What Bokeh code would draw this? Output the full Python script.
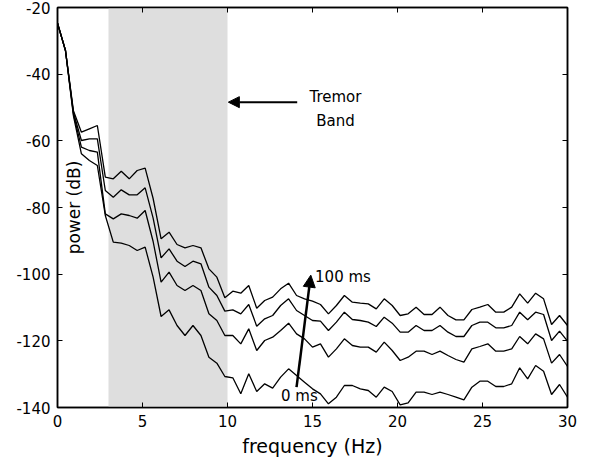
import numpy as np
from bokeh.plotting import figure
from bokeh.models import (ColumnDataSource, LinearAxis, Range1d, FixedTicker, BoxAnnotation,
                          Arrow, NormalHead, Label)
from bokeh.embed import file_html
from bokeh.resources import INLINE

# ---------------- data ----------------
n_points = 65
freq_max = 30.0
freqs = np.arange(n_points) * freq_max / (n_points - 1)

power_100ms = [-24.7, -32.9, -51.0, -57.4, -56.4, -55.4, -70.9, -71.4, -69.1, -71.4,
               -68.9, -68.2, -77.3, -89.4, -87.4, -91.1, -92.1, -91.4, -92.1, -98.4,
               -100.9, -107.1, -105.1, -105.7, -103.4, -110.2, -107.9, -106.9, -104.4, -102.7,
               -106.4, -107.4, -108.1, -109.1, -111.9, -109.4, -106.4, -108.4, -108.7, -108.9,
               -110.4, -107.4, -109.4, -112.4, -111.9, -109.9, -112.1, -112.1, -109.9, -112.4,
               -113.7, -113.7, -110.6, -109.9, -109.1, -111.4, -111.4, -109.9, -105.9, -108.7,
               -105.7, -107.4, -115.1, -112.4, -115.4]
power_67ms = [-24.7, -32.9, -51.5, -59.9, -59.4, -59.4, -74.9, -76.9, -74.7, -76.2,
              -76.2, -74.1, -83.2, -95.1, -92.4, -96.1, -97.7, -96.1, -96.9, -103.9,
              -106.4, -111.1, -110.7, -111.9, -109.1, -115.6, -113.4, -112.4, -109.4, -107.4,
              -110.9, -112.4, -113.9, -114.1, -116.9, -114.4, -111.4, -113.6, -113.9, -114.4,
              -115.7, -112.9, -114.7, -117.4, -117.4, -115.4, -116.9, -116.9, -115.4, -117.4,
              -118.7, -118.7, -115.4, -114.4, -114.4, -116.1, -116.1, -115.4, -111.4, -113.7,
              -111.4, -112.1, -119.9, -117.1, -120.1]
power_33ms = [-24.7, -32.9, -52.0, -61.9, -62.9, -63.4, -81.9, -83.4, -81.9, -82.4,
              -83.2, -80.9, -90.2, -102.4, -99.4, -103.4, -104.9, -103.4, -104.9, -111.9,
              -113.9, -118.4, -118.4, -120.9, -116.4, -122.9, -119.9, -118.9, -116.9, -114.7,
              -117.9, -119.4, -121.9, -120.9, -124.9, -122.4, -119.4, -121.4, -121.9, -121.9,
              -123.4, -120.4, -122.9, -125.9, -124.9, -123.1, -123.1, -124.1, -123.1, -124.4,
              -125.6, -126.4, -122.4, -121.7, -120.9, -123.1, -123.1, -122.4, -118.7, -120.9,
              -117.9, -119.4, -126.7, -124.1, -127.7]
power_0ms = [-24.7, -32.9, -52.5, -63.9, -65.9, -67.4, -82.4, -90.4, -90.7, -91.4,
             -92.9, -91.9, -100.9, -112.7, -110.7, -115.4, -118.4, -115.4, -118.4, -124.9,
             -126.7, -130.7, -131.1, -135.9, -129.9, -135.2, -132.9, -134.2, -130.9, -128.4,
             -130.4, -132.4, -134.4, -135.9, -138.9, -136.9, -133.4, -133.4, -134.4, -134.9,
             -136.9, -133.9, -135.2, -139.2, -138.6, -135.4, -135.4, -136.1, -135.4, -136.1,
             -136.9, -137.7, -133.9, -132.1, -132.1, -133.7, -133.7, -132.9, -128.1, -131.4,
             -127.4, -129.1, -136.1, -133.1, -136.9]

tremor_band = [3.0, 10.0]
x_ticks = [0, 5, 10, 15, 20, 25, 30]
y_ticks = [-140, -120, -100, -80, -60, -40, -20]
y_tick_labels = ["-140", "-120", "-100", "-80", "-60", "-40", "-20"]

tremor_arrow = dict(x_start=14.1, y_start=-48.4, x_end=10.05, y_end=-48.4)
delay_arrow = dict(x_start=14.06, y_start=-133.9, x_end=14.9, y_end=-100.3)

FONT = "DejaVu Sans"

# ---------------- figure ----------------
p = figure(width=596, height=465, output_backend="svg", toolbar_location=None,
           x_range=Range1d(0, 30), y_range=Range1d(-140, -20),
           min_border_left=57, min_border_right=29, min_border_top=7, min_border_bottom=58)
p.background_fill_color = "white"
p.border_fill_color = "white"
p.outline_line_color = "black"
p.outline_line_width = 1.5
p.grid.visible = False

p.add_layout(BoxAnnotation(left=tremor_band[0], right=tremor_band[1],
                           fill_color="#dedede", fill_alpha=1.0, line_color=None, level="underlay"))

for series in (power_100ms, power_67ms, power_33ms, power_0ms):
    src = ColumnDataSource(dict(f=freqs, p=series))
    p.line("f", "p", source=src, line_color="black", line_width=1.3)

def style_axis(ax, labels=True):
    ax.axis_line_color = "black"
    ax.axis_line_width = 1.5
    ax.major_tick_in = 5
    ax.major_tick_out = 0
    ax.minor_tick_line_color = None
    ax.major_tick_line_color = "black"
    ax.major_label_text_font = FONT
    ax.major_label_text_font_size = "15px"
    ax.major_label_text_color = "black"
    ax.major_label_standoff = 7
    if not labels:
        ax.major_label_text_font_size = "0px"
        ax.major_label_text_alpha = 0

p.xaxis.ticker = FixedTicker(ticks=x_ticks)
p.yaxis.ticker = FixedTicker(ticks=y_ticks)
p.yaxis.major_label_overrides = {t: s for t, s in zip(y_ticks, y_tick_labels)}
style_axis(p.xaxis[0])
style_axis(p.yaxis[0])

p.xaxis.axis_label = "frequency (Hz)"
p.xaxis.axis_label_text_font = FONT
p.xaxis.axis_label_text_font_size = "19px"
p.xaxis.axis_label_text_font_style = "normal"
p.xaxis.axis_label_text_color = "black"
p.xaxis.axis_label_standoff = 5

top_ax = LinearAxis(ticker=FixedTicker(ticks=x_ticks))
right_ax = LinearAxis(ticker=FixedTicker(ticks=y_ticks))
style_axis(top_ax, labels=False)
style_axis(right_ax, labels=False)
p.add_layout(top_ax, "above")
p.add_layout(right_ax, "right")

p.add_layout(Label(x=0.95, y=-80, text="power (dB)", angle=np.pi / 2,
                   text_font=FONT, text_font_size="17px", text_align="center",
                   text_baseline="middle", text_color="black"))

# annotations
p.add_layout(Arrow(end=NormalHead(size=11, fill_color="black", line_color="black"),
                   line_width=2, line_color="black", **tremor_arrow))
p.add_layout(Arrow(end=NormalHead(size=12, fill_color="black", line_color="black"),
                   line_width=2.5, line_color="black", **delay_arrow))

for txt, x, y, align in [("Tremor", 16.35, -46.7, "center"), ("Band", 16.35, -53.9, "center"),
                         ("100 ms", 15.15, -100.7, "left"), ("0 ms", 13.15, -136.6, "left")]:
    p.add_layout(Label(x=x, y=y, text=txt, text_font=FONT, text_font_size="15px",
                       text_align=align, text_baseline="middle", text_color="black"))

open("out.html", "w").write(file_html(p, INLINE))
